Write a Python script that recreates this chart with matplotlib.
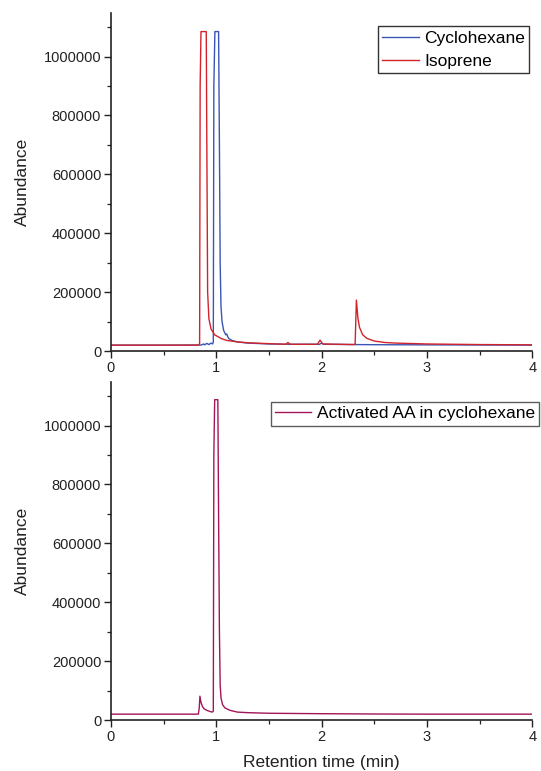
import matplotlib
matplotlib.use("Agg")
import matplotlib.pyplot as plt
from matplotlib.ticker import MultipleLocator

plt.rcParams['font.family'] = ['Liberation Sans', 'DejaVu Sans']

# Chromatogram traces: retention time (min) and detector abundance
cyclohexane_t = [0, 0.5, 0.86, 0.88, 0.89, 0.91, 0.93, 0.95, 0.965, 0.972, 0.977,
                 0.987, 1.022, 1.03, 1.037, 1.045, 1.055, 1.07, 1.09, 1.1, 1.11,
                 1.12, 1.15, 1.2, 1.3, 1.5, 1.7, 1.98, 2.0, 2.02, 2.3, 2.5, 3.0,
                 3.5, 4.0]
cyclohexane_y = [20000, 20000, 20500, 24000, 21000, 26000, 22000, 27000, 24000,
                 30000, 900000, 1085000, 1085000, 700000, 300000, 150000, 100000,
                 70000, 55000, 58000, 48000, 42000, 36000, 31000, 27000, 24000,
                 23000, 23000, 27000, 23000, 22000, 21500, 21000, 20500, 20000]

isoprene_t = [0, 0.83, 0.842, 0.847, 0.855, 0.905, 0.912, 0.918, 0.93, 0.95,
              0.985, 1.05, 1.1, 1.2, 1.3, 1.5, 1.66, 1.68, 1.70, 1.96, 1.985,
              2.01, 2.3, 2.318, 2.33, 2.345, 2.36, 2.39, 2.43, 2.5, 2.6, 2.7,
              3.0, 3.5, 4.0]
isoprene_y = [20000, 20000, 25000, 900000, 1085000, 1085000, 600000, 200000,
              110000, 75000, 55000, 42000, 36000, 31000, 28000, 25000, 23000,
              29000, 23000, 23000, 37000, 24000, 22000, 23000, 173000, 110000,
              80000, 55000, 43000, 34000, 29000, 27000, 24000, 22000, 21000]

activated_t = [0, 0.83, 0.838, 0.845, 0.855, 0.87, 0.885, 0.91, 0.94, 0.962,
               0.972, 0.977, 0.985, 1.015, 1.022, 1.03, 1.037, 1.045, 1.06,
               1.08, 1.1, 1.13, 1.2, 1.3, 1.5, 2.0, 2.5, 3.0, 4.0]
activated_y = [20000, 20000, 40000, 81000, 60000, 45000, 38000, 33000, 29000,
               27000, 30000, 900000, 1088000, 1088000, 700000, 300000, 120000,
               75000, 52000, 42000, 38000, 33000, 27000, 25000, 23000, 21500,
               20500, 20000, 20000]

x_ticks = [0, 1, 2, 3, 4]
y_ticks = [0, 200000, 400000, 600000, 800000, 1000000]

BLUE = '#3a55b4'
RED = '#d2232a'
WINE = '#a3155a'
AXIS = '#222222'

fig = plt.figure(figsize=(5.41, 7.71), dpi=100)
ax_top = fig.add_axes([0.205, 0.5447, 0.779, 0.4384])
ax_bot = fig.add_axes([0.205, 0.0661, 0.779, 0.4384])


def style_axes(ax):
    ax.set_xlim(0, 4)
    ax.set_ylim(0, 1.148e6)
    ax.set_xticks(x_ticks)
    ax.set_yticks(y_ticks)
    ax.set_xticklabels([str(v) for v in x_ticks])
    ax.set_yticklabels([str(v) for v in y_ticks])
    ax.xaxis.set_minor_locator(MultipleLocator(0.5))
    ax.yaxis.set_minor_locator(MultipleLocator(100000))
    for side in ('top', 'right'):
        ax.spines[side].set_visible(False)
    for side in ('left', 'bottom'):
        ax.spines[side].set_linewidth(1.2)
        ax.spines[side].set_color(AXIS)
    ax.tick_params(which='major', direction='out', length=5, width=1.0,
                   labelsize=10.5, colors=AXIS, pad=2)
    ax.tick_params(which='minor', direction='out', length=3, width=0.9,
                   colors=AXIS)
    ax.set_ylabel('Abundance', fontsize=12.5, color=AXIS, labelpad=10)


def add_legend(ax, anchor, edge):
    leg = ax.legend(loc='upper right', bbox_to_anchor=anchor,
                    bbox_transform=fig.transFigure, fontsize=12.5,
                    frameon=True, fancybox=False, borderpad=0.25,
                    handlelength=2.1, handletextpad=0.3, labelspacing=0.45,
                    borderaxespad=0)
    leg.get_frame().set_edgecolor(edge)
    leg.get_frame().set_linewidth(1.0)
    return leg


ax_top.plot(cyclohexane_t, cyclohexane_y, color=BLUE, lw=1.0,
            label='Cyclohexane')
ax_top.plot(isoprene_t, isoprene_y, color=RED, lw=1.0, label='Isoprene')
style_axes(ax_top)
add_legend(ax_top, (0.978, 0.966), 'black')

ax_bot.plot(activated_t, activated_y, color=WINE, lw=1.0,
            label='Activated AA in cyclohexane')
style_axes(ax_bot)
ax_bot.set_xlabel('Retention time (min)', fontsize=12.5, color=AXIS,
                  labelpad=8)
add_legend(ax_bot, (0.9963, 0.479), '#333333')

fig.savefig('out.png', dpi=100)
